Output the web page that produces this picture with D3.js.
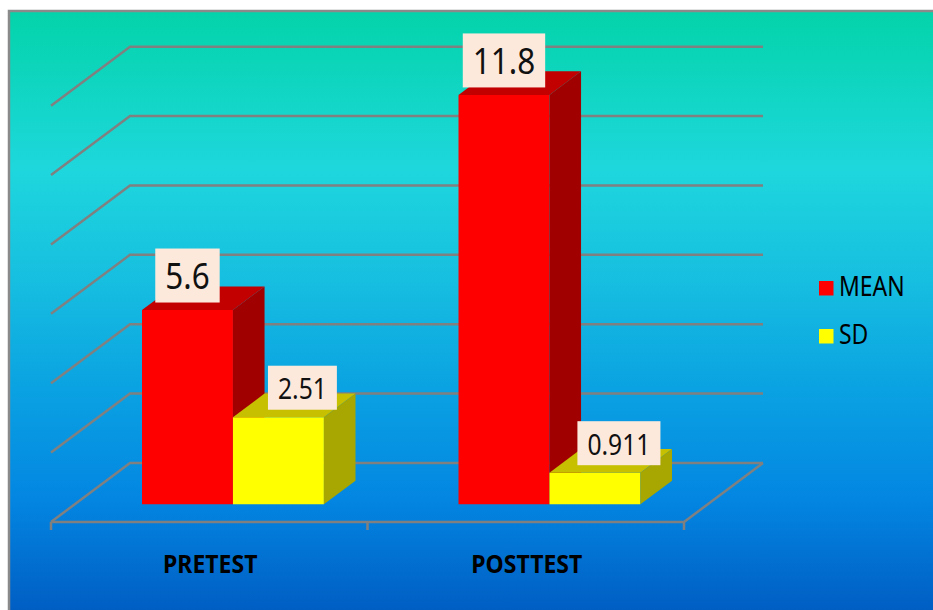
<!DOCTYPE html>
<html>
<head>
<meta charset="utf-8">
<script src="https://cdn.jsdelivr.net/npm/d3@7"></script>
<style>
  html, body { margin: 0; padding: 0; background: #fff; }
  svg { display: block; font-family: "Noto Sans", "DejaVu Sans", sans-serif; }
</style>
</head>
<body>
<div id="chart"></div>
<script>
// chart data
const categories = ["PRETEST", "POSTTEST"];
const seriesNames = ["MEAN", "SD"];
const meanValues = [5.6, 11.8];
const sdValues = [2.51, 0.911];
const yTicks = [0, 2, 4, 6, 8, 10, 12];

const W = 933, H = 610;
const DX = 79, DY = -59;          // depth of the box (z = 0 front, z = 1 back)
const Z0 = 0.3, Z1 = 0.7;         // bars sit in the middle of the depth
const SQ = 0.85;                  // text is a bit narrow in the original

const colors = {
    MEAN: { front: "#ff0000", top: "#c20000", side: "#a00000" },
    SD:   { front: "#ffff00", top: "#c6c000", side: "#a8a600" }
};

const svg = d3.select("#chart").append("svg")
    .attr("width", W)
    .attr("height", H);

// background gradient
const grad = svg.append("defs").append("linearGradient")
    .attr("id", "bg").attr("x1", 0).attr("y1", 0).attr("x2", 0).attr("y2", 1);
[[0, "#03d3aa"], [0.08, "#0bd5b9"], [0.26, "#1ed7dd"], [0.45, "#16bde0"],
 [0.62, "#0aa2e2"], [0.8, "#0386e2"], [1, "#005ac0"]]
    .forEach(s => grad.append("stop").attr("offset", s[0]).attr("stop-color", s[1]));

svg.append("rect")
    .attr("x", 9).attr("y", 11)
    .attr("width", W).attr("height", H)
    .attr("fill", "url(#bg)")
    .attr("stroke", "#8a8a8a")
    .attr("stroke-width", 2.5);

const x0 = d3.scaleBand().domain(categories).range([51, 684]);
const x1 = d3.scaleBand().domain(seriesNames).range([0, x0.bandwidth()])
    .paddingInner(0).paddingOuter(0.74);
const y = d3.scaleLinear().domain([0, 12]).range([522, 105.7]);

const px = (x, z) => x + z * DX;
const py = (v, z) => y(v) + z * DY;
const pt = (x, v, z) => [px(x, z), py(v, z)];

// walls and floor
const grid = svg.append("g")
    .attr("fill", "none")
    .attr("stroke", "#808080")
    .attr("stroke-width", 2.5);

const xl = x0.range()[0], xr = x0.range()[1];

grid.selectAll("path.wall")
    .data(yTicks)
    .join("path")
    .attr("class", "wall")
    .attr("d", t => d3.line()([pt(xl, t, 0), pt(xl, t, 1), pt(xr, t, 1)]));

// floor front edge and right edge
grid.append("path")
    .attr("d", d3.line()([pt(xl, 0, 0), pt(xr, 0, 0), pt(xr, 0, 1)]));

// category ticks
const tickXs = [xl].concat(categories.map(c => x0(c) + x0.bandwidth()));
grid.selectAll("line.tick")
    .data(tickXs)
    .join("line")
    .attr("class", "tick")
    .attr("x1", d => d).attr("x2", d => d)
    .attr("y1", y(0)).attr("y2", y(0) + 8);

function squeeze(sel, k) {
    sel.each(function () {
        const w = this.getComputedTextLength();
        d3.select(this).attr("textLength", w * k).attr("lengthAdjust", "spacingAndGlyphs");
    });
}

// category labels
svg.append("g").selectAll("text")
    .data(categories)
    .join("text")
    .attr("x", c => x0(c) + x0.bandwidth() / 2 + 1)
    .attr("y", 573)
    .attr("text-anchor", "middle")
    .attr("font-size", 25)
    .attr("font-weight", "bold")
    .attr("fill", "#000")
    .text(c => c)
    .call(squeeze, 0.92);

// bars
const bars = [];
categories.forEach((c, i) => {
    bars.push({ cat: c, series: "MEAN", value: meanValues[i] });
    bars.push({ cat: c, series: "SD", value: sdValues[i] });
});

const barG = svg.append("g").selectAll("g")
    .data(bars)
    .join("g");

barG.each(function (d) {
    const g = d3.select(this);
    const a = x0(d.cat) + x1(d.series);
    const b = a + x1.bandwidth();
    const col = colors[d.series];
    g.append("path")
        .attr("fill", col.front)
        .attr("d", d3.line()([pt(a, 0, Z0), pt(b, 0, Z0), pt(b, d.value, Z0), pt(a, d.value, Z0)]) + "Z");
    g.append("path")
        .attr("fill", col.top)
        .attr("d", d3.line()([pt(a, d.value, Z0), pt(b, d.value, Z0), pt(b, d.value, Z1), pt(a, d.value, Z1)]) + "Z");
    g.append("path")
        .attr("fill", col.side)
        .attr("d", d3.line()([pt(b, 0, Z0), pt(b, d.value, Z0), pt(b, d.value, Z1), pt(b, 0, Z1)]) + "Z");
});

// value labels
const labelStyle = {
    MEAN: { size: 37, height: 54, base: 13.5, shift: 0 },
    SD:   { size: 29, height: 44, base: 10.5, shift: 24 }
};

const labelG = svg.append("g").selectAll("g")
    .data(bars)
    .join("g");

labelG.each(function (d) {
    const g = d3.select(this);
    const st = labelStyle[d.series];
    const cx = px(x0(d.cat) + x1(d.series) + x1.bandwidth() / 2, Z0) + st.shift;
    const bottom = py(d.value, Z0) - 7.5;
    const box = g.append("rect").attr("fill", "#fde9dc");
    const txt = g.append("text")
        .attr("x", cx)
        .attr("y", bottom - st.base)
        .attr("text-anchor", "middle")
        .attr("font-size", st.size)
        .attr("fill", "#111")
        .text(d.value)
        .call(squeeze, SQ);
    const w = +txt.attr("textLength") + 20;
    box.attr("x", cx - w / 2)
        .attr("y", bottom - st.height)
        .attr("width", w)
        .attr("height", st.height);
});

// legend
const legend = svg.append("g").selectAll("g")
    .data(seriesNames)
    .join("g")
    .attr("transform", (s, i) => `translate(819, ${281 + i * 48})`);

legend.append("rect")
    .attr("width", 14.5).attr("height", 14.5)
    .attr("fill", s => colors[s].front);

legend.append("text")
    .attr("x", 20)
    .attr("y", 15)
    .attr("font-size", 27)
    .attr("fill", "#000")
    .text(s => s)
    .call(squeeze, SQ);
</script>
</body>
</html>
